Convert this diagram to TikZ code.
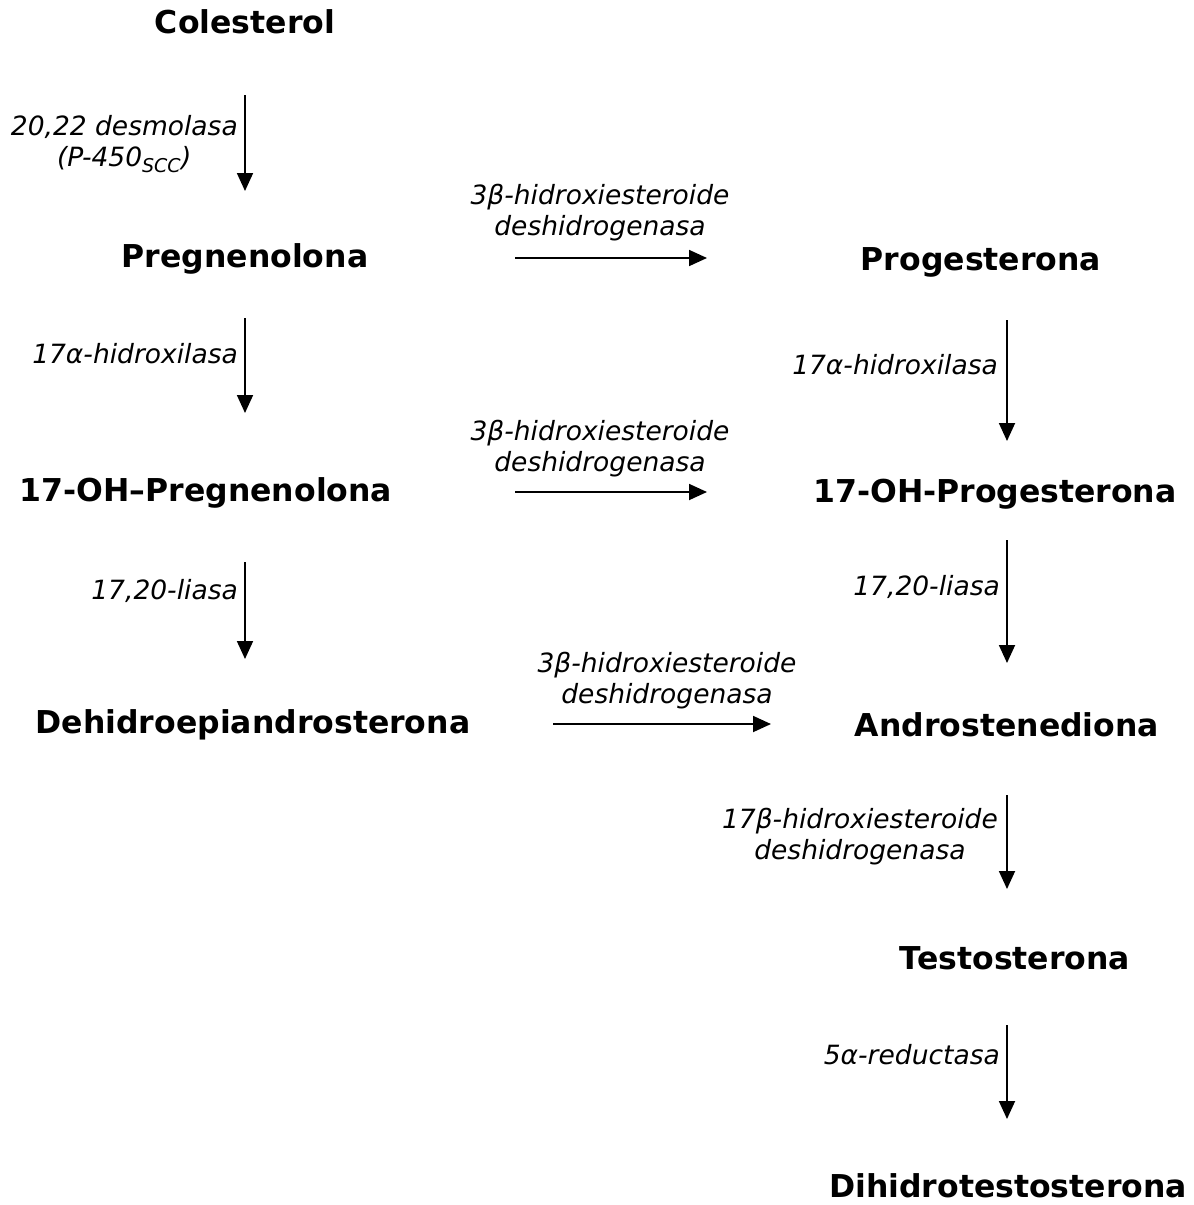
\documentclass[tikz,border=0pt]{standalone}
\usepackage{fontspec}
\setmainfont{DejaVu Sans}
\usetikzlibrary{arrows.meta}
\tikzset{
  comp/.style={font=\fontsize{31.5}{36}\selectfont\bfseries, inner sep=0pt},
  enz/.style={font=\fontsize{26.5}{31}\selectfont\itshape, inner sep=0pt, align=center},
  rxn/.style={line width=1.8pt, -{Triangle[length=18pt,width=16pt]}}
}
\begin{document}
\begin{tikzpicture}[x=1pt,y=-1pt]
\useasboundingbox (0,0) rectangle (1194,1205);
% compounds
\node[comp] (col) at (245,22) {Colesterol};
\node[comp] (preg) at (245,259) {Pregnenolona};
\node[comp] (prog) at (981,262) {Progesterona};
\node[comp] (ohpreg) at (206,493) {17-OH–Pregnenolona};
\node[comp] (ohprog) at (995,494) {17-OH-Progesterona};
\node[comp] (dhea) at (253,725) {Dehidroepiandrosterona};
\node[comp] (andro) at (1007,725) {Androstenediona};
\node[comp] (testo) at (1015,958) {Testosterona};
\node[comp, anchor=base] (dht) at (1008,1197) {Dihidrotestosterona};
% arrow endpoints
\coordinate (a1s) at (245,95);   \coordinate (a1e) at (245,191);
\coordinate (a2s) at (515,258);  \coordinate (a2e) at (707,258);
\coordinate (a3s) at (245,318);  \coordinate (a3e) at (245,413);
\coordinate (a4s) at (1007,320); \coordinate (a4e) at (1007,441);
\coordinate (a5s) at (515,492);  \coordinate (a5e) at (707,492);
\coordinate (a6s) at (245,562);  \coordinate (a6e) at (245,659);
\coordinate (a7s) at (1007,540); \coordinate (a7e) at (1007,663);
\coordinate (a8s) at (553,724);  \coordinate (a8e) at (771,724);
\coordinate (a9s) at (1007,795); \coordinate (a9e) at (1007,889);
\coordinate (a10s) at (1007,1025); \coordinate (a10e) at (1007,1119);
% arrows
\draw[rxn] (a1s) -- (a1e);
\draw[rxn] (a2s) -- (a2e);
\draw[rxn] (a3s) -- (a3e);
\draw[rxn] (a4s) -- (a4e);
\draw[rxn] (a5s) -- (a5e);
\draw[rxn] (a6s) -- (a6e);
\draw[rxn] (a7s) -- (a7e);
\draw[rxn] (a8s) -- (a8e);
\draw[rxn] (a9s) -- (a9e);
\draw[rxn] (a10s) -- (a10e);
% enzyme labels
\node[enz, anchor=east] (e1) at (238,144) {20,22 desmolasa\\(P-450\textsubscript{\fontsize{19}{19}\selectfont SCC})};
\node[enz] (e2) at (600,213) {3β-hidroxiesteroide\\deshidrogenasa};
\node[enz, anchor=east] (e3) at (238,354) {17α-hidroxilasa};
\node[enz, anchor=east] (e4) at (998,365) {17α-hidroxilasa};
\node[enz] (e5) at (600,449) {3β-hidroxiesteroide\\deshidrogenasa};
\node[enz, anchor=east] (e6) at (238,591) {17,20-liasa};
\node[enz, anchor=east] (e7) at (1000,587) {17,20-liasa};
\node[enz] (e8) at (667,681) {3β-hidroxiesteroide\\deshidrogenasa};
\node[enz, anchor=east] (e9) at (998,837) {17β-hidroxiesteroide\\deshidrogenasa};
\node[enz, anchor=east] (e10) at (1000,1055) {5α-reductasa};
\end{tikzpicture}
\end{document}
